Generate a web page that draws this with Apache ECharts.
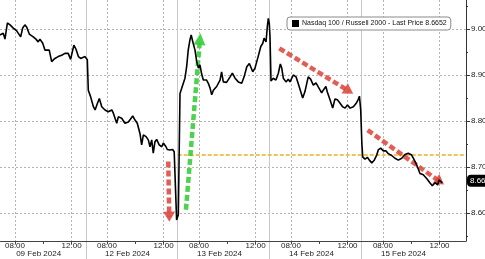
<!DOCTYPE html>
<html><head><meta charset="utf-8">
<script src="https://cdn.jsdelivr.net/npm/echarts@6/dist/echarts.min.js"></script>
<style>html,body{margin:0;padding:0;background:#fff}#c{width:485px;height:259px}</style>
</head><body><div id="c"></div>
<script>
// x = trading-session hours counted from 09 Feb 2024 06:30 (each session 06:30-13:00 = 6.5 h)
const times = [0.44,0.56,0.67,0.79,0.96,1.15,1.38,1.62,1.90,2.04,2.20,2.33,2.51,2.79,2.98,3.14,3.26,3.46,3.62,3.74,3.92,4.09,4.32,4.55,4.80,5.03,5.15,5.26,5.43,5.66,5.81,5.98,6.14,6.28,6.45,6.61,6.68,6.84,7.04,7.16,7.32,7.46,7.63,7.86,8.09,8.34,8.45,8.69,8.80,9.04,9.27,9.51,9.82,9.98,10.14,10.33,10.45,10.57,10.76,10.92,11.04,11.16,11.27,11.39,11.51,11.69,11.87,11.98,12.17,12.26,12.45,12.64,12.75,12.92,13.04,13.16,13.28,13.39,13.51,13.63,13.74,13.86,13.95,14.09,14.22,14.34,14.46,14.57,14.69,14.81,14.92,15.04,15.16,15.28,15.40,15.52,15.63,15.75,15.87,15.99,16.10,16.22,16.45,16.70,16.86,17.05,17.28,17.52,17.69,17.88,18.06,18.30,18.46,18.69,18.87,19.01,19.10,19.24,19.33,19.40,19.47,19.52,19.59,19.75,19.94,20.11,20.25,20.35,20.46,20.65,20.81,20.93,21.17,21.36,21.59,21.83,21.99,22.22,22.39,22.58,22.77,22.93,23.17,23.28,23.47,23.57,23.76,23.95,24.11,24.28,24.46,24.65,24.83,24.99,25.18,25.41,25.60,25.76,25.84,25.93,26.01,26.07,26.23,26.40,26.54,26.71,26.87,27.06,27.17,27.34,27.53,27.72,27.88,28.12,28.35,28.59,28.83,29.06,29.29,29.53,29.72,29.89,30.12,30.35,30.59,30.83,30.99,31.18,31.37,31.46,31.60,31.70];
const values = [8.987,8.983,8.991,8.978,9.013,9.009,9.002,8.996,8.983,9.002,9.009,9.004,8.989,8.983,8.978,8.972,8.978,8.969,8.954,8.951,8.954,8.929,8.936,8.940,8.943,8.947,8.943,8.947,8.934,8.965,8.956,8.940,8.936,8.933,8.940,8.933,8.867,8.853,8.831,8.824,8.838,8.849,8.831,8.824,8.820,8.824,8.817,8.795,8.809,8.806,8.795,8.798,8.811,8.802,8.795,8.773,8.748,8.770,8.766,8.759,8.744,8.759,8.730,8.755,8.760,8.748,8.744,8.752,8.744,8.738,8.737,8.738,8.733,8.585,8.596,8.860,8.871,8.875,8.893,8.918,8.954,8.976,8.987,8.969,8.954,8.929,8.915,8.922,8.902,8.889,8.893,8.889,8.882,8.872,8.857,8.867,8.871,8.875,8.878,8.889,8.907,8.885,8.884,8.896,8.904,8.893,8.885,8.882,8.896,8.918,8.925,8.907,8.915,8.941,8.962,8.969,8.980,8.972,9.005,9.023,9.012,8.983,8.887,8.893,8.889,8.904,8.924,8.915,8.893,8.885,8.891,8.885,8.900,8.896,8.874,8.850,8.864,8.896,8.891,8.878,8.883,8.874,8.861,8.867,8.875,8.863,8.846,8.828,8.848,8.846,8.839,8.831,8.828,8.835,8.828,8.831,8.838,8.847,8.854,8.824,8.752,8.722,8.717,8.721,8.715,8.709,8.714,8.726,8.737,8.741,8.735,8.735,8.729,8.725,8.719,8.715,8.719,8.727,8.730,8.726,8.715,8.704,8.686,8.683,8.675,8.665,8.659,8.666,8.661,8.672,8.668,8.6652];
const dayLabels = ['09 Feb 2024','12 Feb 2024','13 Feb 2024','14 Feb 2024','15 Feb 2024'];
const timeTickLabels = ['08:00','12:00'];
const minorTimeTicks = ['10:00'];
const yTickValues = [8.6,8.7,8.8,8.9,9.0];
const seriesName = 'Nasdaq 100 / Russell 2000';
const refLevel = 8.726;            // horizontal reference (dashed orange)
const redArrows = [[[12.33,8.712],[12.40,8.592]],[[20.18,8.958],[25.10,8.865]],[[26.42,8.780],[31.53,8.668]]];
const greenArrows = [[[13.58,8.607],[14.57,8.978]]];

const SESSION = 6.5, OPEN = 6.5, XMIN = 0.44, XMAX = 33.37;
const FONT = 'Liberation Sans';
const hm = s => { const p = s.split(':'); return +p[0] + p[1]/60; };
const dayIdx = [0,1,2,3,4].slice(0, dayLabels.length);
const labelVals = [], tickVals = [], sepVals = [], dayVals = [];
dayIdx.forEach(d => {
  timeTickLabels.forEach(s => { labelVals.push(d*SESSION + hm(s) - OPEN); tickVals.push(d*SESSION + hm(s) - OPEN); });
  minorTimeTicks.forEach(s => tickVals.push(d*SESSION + hm(s) - OPEN));
  if (d > 0) sepVals.push(d*SESSION);
  const a = Math.max(d*SESSION, XMIN), b = Math.min((d+1)*SESSION, XMAX);
  dayVals.push((a+b)/2 - 0.3);
});
const pad = n => (n<10?'0':'')+n;
const fmtTime = v => { const d = Math.floor(v/SESSION + 1e-9); const h = v - d*SESSION + OPEN; const hh = Math.floor(h+1e-6); const mm = Math.round((h-hh)*60); return pad(hh)+':'+pad(mm); };
const last = values[values.length-1];

const chart = echarts.init(document.getElementById('c'), null, {renderer:'canvas'});
chart.setOption({
  animation: false,
  textStyle: {fontFamily: FONT},
  legend: {
    left: 287, top: 17, padding: [3,4,3,5], itemWidth: 7, itemHeight: 7, icon: 'rect',
    backgroundColor: '#fff', borderColor: '#8a8a8a', borderWidth: 1, borderRadius: 3,
    textStyle: {fontSize: 7, color: '#111', fontFamily: FONT, padding: [0,0,0,-2]},
    formatter: n => n + ' - Last Price ' + last.toFixed(4),
    data: [{name: seriesName, itemStyle: {color: '#000'}}]
  },
  grid: [
    {left: 0, right: 19, top: -17, bottom: 0, outerBoundsMode: 'none', containLabel: false},
    {left: 0, right: 19, top: 0, bottom: 18, outerBoundsMode: 'none', containLabel: false}
  ],
  xAxis: [
    {gridIndex: 0, type: 'value', min: XMIN, max: XMAX,
     axisLine: {show: false}, axisLabel: {show: false},
     axisTick: {show: false, customValues: sepVals},
     splitLine: {show: true, lineStyle: {color: '#c8c8c8', width: 1, type: 'solid'}}},
    {gridIndex: 1, type: 'value', min: XMIN, max: XMAX, position: 'bottom',
     axisLine: {show: true, onZero: false, lineStyle: {color: '#444', width: 1}},
     axisTick: {show: true, customValues: tickVals, length: 3, lineStyle: {color: '#444'}},
     axisLabel: {show: true, customValues: labelVals, formatter: fmtTime, fontSize: 8, color: '#222', margin: 1, fontFamily: FONT, hideOverlap: false},
     splitLine: {show: false}},
    {gridIndex: 1, type: 'value', min: XMIN, max: XMAX, position: 'bottom',
     axisLine: {show: false}, axisLabel: {show: false},
     axisTick: {show: false, customValues: labelVals},
     splitLine: {show: true, lineStyle: {color: '#b4b4b4', width: 1, type: [2,2]}}},
    {gridIndex: 1, type: 'value', min: XMIN, max: XMAX, position: 'bottom',
     axisLine: {show: false}, axisTick: {show: false},
     axisLabel: {show: true, customValues: dayVals, formatter: v => dayLabels[Math.floor(v/SESSION)], fontSize: 8, color: '#222', margin: 9, fontFamily: FONT, hideOverlap: false},
     splitLine: {show: false}}
  ],
  yAxis: [
    {gridIndex: 0, type: 'value', position: 'right', min: 8.5, max: 9.1, interval: 0.1,
     axisLine: {show: false},
     axisTick: {show: true, length: 4, lineStyle: {color: '#333'}},
     minorTick: {show: true, splitNumber: 2, length: 2, lineStyle: {color: '#333'}},
     axisLabel: {fontSize: 8, color: '#222', margin: 5, fontFamily: FONT,
       formatter: v => yTickValues.some(t => Math.abs(t - v) < 1e-6) ? v.toFixed(3) : ''},
     splitLine: {show: true, lineStyle: {color: '#b4b4b4', width: 1, type: [2,2]}}},
    {gridIndex: 1, type: 'value', position: 'right', min: 0, max: 1,
     axisLine: {show: true, lineStyle: {color: '#333', width: 1}},
     axisTick: {show: false}, axisLabel: {show: false}, splitLine: {show: false}}
  ],
  series: [
    {name: seriesName, type: 'line', xAxisIndex: 0, yAxisIndex: 0,
     data: times.map((t,i) => [t, values[i]]),
     showSymbol: false, symbol: 'none', lineStyle: {color: '#000', width: 1.6}, itemStyle: {color: '#000'},
     z: 5,
     markLine: {silent: true, symbol: ['none','none'], animation: false,
       data: [
         [{coord: [sepVals[1], refLevel], lineStyle: {color: '#e6b31e', width: 1.5, type: [4,2]}, label: {show: false}},
          {coord: [XMAX, refLevel]}],
         {yAxis: last, lineStyle: {color: 'rgba(0,0,0,0)', width: 0},
          label: {show: true, position: 'end', distance: 1, formatter: last.toFixed(4), backgroundColor: '#000', color: '#fff',
                  borderRadius: 4, padding: [2,3,2,3], fontSize: 8, fontFamily: FONT}}
       ]}},
    {name: 'redArrows', type: 'line', xAxisIndex: 0, yAxisIndex: 0, data: [], z: 6,
     markLine: {silent: true, animation: false, symbol: ['none','triangle'], symbolSize: [12,10],
       lineStyle: {color: 'rgba(222,72,62,0.88)', width: 4.5, type: [6,3], cap: 'butt'},
       itemStyle: {color: 'rgba(222,72,62,0.88)'},
       label: {show: false},
       data: redArrows.map(a => [{coord: a[0]}, {coord: a[1]}])}},
    {name: 'greenArrows', type: 'line', xAxisIndex: 0, yAxisIndex: 0, data: [], z: 6,
     markLine: {silent: true, animation: false, symbol: ['none','triangle'], symbolSize: [12,12],
       lineStyle: {color: 'rgba(58,205,58,0.9)', width: 4.5, type: [6,3], cap: 'butt'},
       itemStyle: {color: 'rgba(58,205,58,0.9)'},
       label: {show: false},
       data: greenArrows.map(a => [{coord: a[0]}, {coord: a[1]}])}}
  ]
});
</script></body></html>
